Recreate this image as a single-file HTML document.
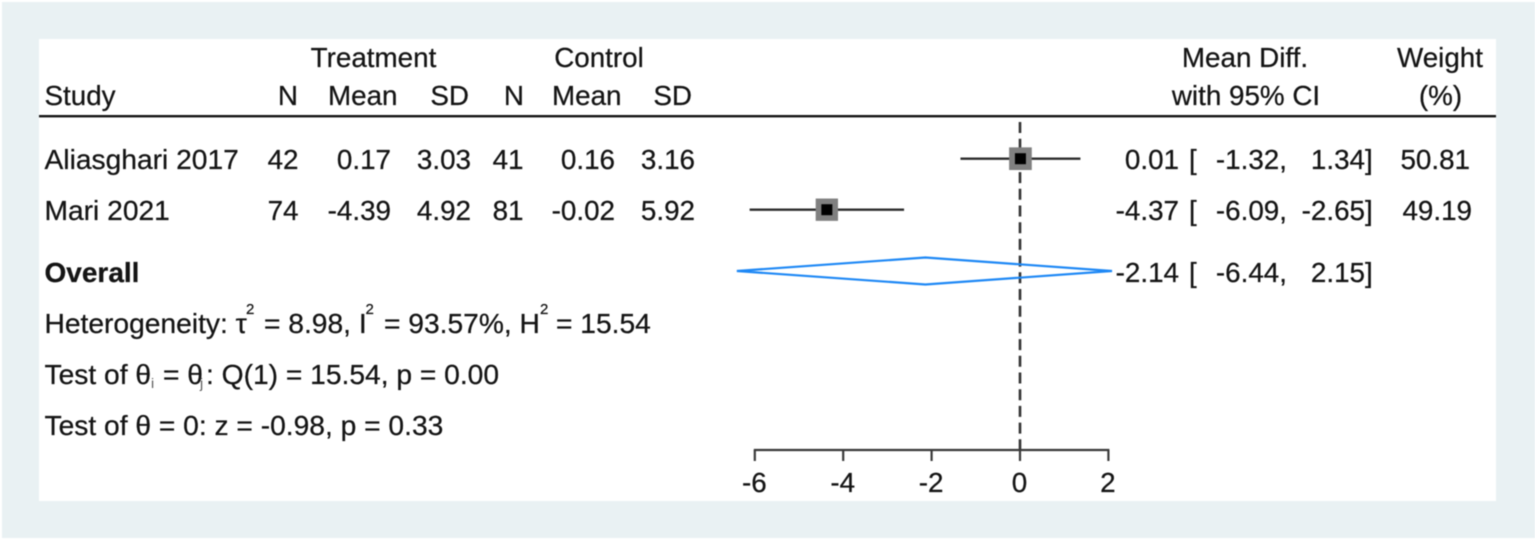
<!DOCTYPE html>
<html lang="en">
<head>
<meta charset="utf-8">
<title>Forest plot</title>
<style>
html,body{margin:0;padding:0;background:#fff;}
body{width:1535px;height:541px;overflow:hidden;}
svg{display:block;filter:blur(0.45px);}
text{font-family:"Liberation Sans",Arial,sans-serif;font-size:27.8px;fill:#141414;stroke:#141414;stroke-width:0.25px;}
.r{text-anchor:end;}
.m{text-anchor:middle;}
.wide{font-size:28.2px;}
.sup{font-size:15px;}
.sub{font-size:14px;fill:#555;stroke:none;}
</style>
</head>
<body>
<svg id="chart" xmlns="http://www.w3.org/2000/svg" width="1535" height="541" viewBox="0 0 1535 541">
  <rect x="2" y="2" width="1533" height="536" fill="#e9f1f3"/>
  <rect x="39" y="39" width="1457" height="462" fill="#ffffff"/>

  <g>
    <text x="373.5" y="67" class="m">Treatment</text>
    <text x="599" y="67" class="m">Control</text>
    <text x="1245" y="67" class="m">Mean Diff.</text>
    <text x="1440" y="67" class="m">Weight</text>
    <text x="44.5" y="105">Study</text>
    <text x="298" y="105" class="r">N</text>
    <text x="397.5" y="105" class="r">Mean</text>
    <text x="469" y="105" class="r">SD</text>
    <text x="524" y="105" class="r">N</text>
    <text x="621.5" y="105" class="r">Mean</text>
    <text x="692" y="105" class="r">SD</text>
    <text x="1246" y="105" class="m">with 95% CI</text>
    <text x="1440.5" y="105" class="m">(%)</text>
  </g>
  <rect x="39" y="115" width="1457" height="2.4" fill="#141414"/>

  <g>
    <text class="wide" x="44.5" y="169">Aliasghari 2017</text>
    <text x="298.5" y="169" class="r">42</text>
    <text x="391" y="169" class="r">0.17</text>
    <text x="471" y="169" class="r">3.03</text>
    <text x="523.5" y="169" class="r">41</text>
    <text x="615" y="169" class="r">0.16</text>
    <text x="695" y="169" class="r">3.16</text>
    <text x="1179" y="169" class="r">0.01</text>
    <text x="1189" y="169">[</text>
    <text x="1287" y="169" class="r">-1.32,</text>
    <text x="1365" y="169" class="r">1.34</text>
    <text x="1365" y="169">]</text>
    <text x="1470" y="169" class="r">50.81</text>
  </g>
  <g>
    <text class="wide" x="44.5" y="220">Mari 2021</text>
    <text x="298.5" y="220" class="r">74</text>
    <text x="391" y="220" class="r">-4.39</text>
    <text x="471" y="220" class="r">4.92</text>
    <text x="523.5" y="220" class="r">81</text>
    <text x="615" y="220" class="r">-0.02</text>
    <text x="695" y="220" class="r">5.92</text>
    <text x="1179" y="220" class="r">-4.37</text>
    <text x="1189" y="220">[</text>
    <text x="1287" y="220" class="r">-6.09,</text>
    <text x="1365" y="220" class="r">-2.65</text>
    <text x="1365" y="220">]</text>
    <text x="1472" y="220" class="r">49.19</text>
  </g>
  <g>
    <text x="44.5" y="282" style="font-weight:bold;font-size:28px">Overall</text>
    <text x="1179" y="282" class="r">-2.14</text>
    <text x="1189" y="282">[</text>
    <text x="1287" y="282" class="r">-6.44,</text>
    <text x="1365" y="282" class="r">2.15</text>
    <text x="1365" y="282">]</text>
  </g>

  <text class="wide" y="333"><tspan x="44.5">Heterogeneity: τ</tspan><tspan class="sup" x="246" y="314">2</tspan><tspan x="264" y="333">= 8.98, I</tspan><tspan class="sup" x="365.5" y="314">2</tspan><tspan x="384" y="333">= 93.57%, H</tspan><tspan class="sup" x="540" y="314">2</tspan><tspan x="556" y="333">= 15.54</tspan></text>
  <text class="wide" y="384"><tspan x="44.5">Test of θ</tspan><tspan class="sub" x="151" y="388">i</tspan><tspan x="163" y="384">= θ</tspan><tspan class="sub" x="200" y="388">j</tspan><tspan x="206" y="384">: Q(1) = 15.54, p = 0.00</tspan></text>
  <text class="wide" x="44.5" y="435">Test of θ = 0: z = -0.98, p = 0.33</text>

  <g id="marks"></g>
</svg>
<script>
var studyNames = ["Aliasghari 2017", "Mari 2021"];
var meanDiff = [0.01, -4.37];
var ciLow = [-1.32, -6.09];
var ciHigh = [1.34, -2.65];
var weights = [50.81, 49.19];
var overallEffect = [-2.14];
var overallCi = [-6.44, 2.15];
var tickValues = [-6, -4, -2, 0, 2];
var tickLabels = ["-6", "-4", "-2", "0", "2"];

var NS = "http://www.w3.org/2000/svg";
var marks = document.getElementById("marks");
function xScale(v) { return 1020 + v * 44.2; }
function rowY(i) { return 158.7 + i * 51; }
function shape(tag, attrs, parent) {
  var el = document.createElementNS(NS, tag);
  for (var k in attrs) { el.setAttribute(k, attrs[k]); }
  (parent || marks).appendChild(el);
  return el;
}

var refLine = shape("line", {x1: xScale(0), x2: xScale(0), y1: 122, y2: 456, stroke: "#333", "stroke-width": 2.6, "stroke-dasharray": "11 5.7"});



studyNames.forEach(function (name, i) {
  var y = rowY(i);
  var ci = shape("line", {x1: xScale(ciLow[i]), x2: xScale(ciHigh[i]), y1: y, y2: y, stroke: "#2e2e2e", "stroke-width": 2.4, "stroke-linecap": "square"});
  
  
  var size = 22.5 * Math.sqrt(weights[i] / 50);
  var box = shape("rect", {x: xScale(meanDiff[i]) - size / 2, y: y - size / 2, width: size, height: size, fill: "#808080"});
  
  
  var dot = shape("rect", {x: xScale(meanDiff[i]) - 5.5, y: y - 5.5, width: 11, height: 11, fill: "#000"});
  
  
});

var oy = 271;
var diamond = shape("polygon", {
  points: [xScale(overallCi[0]) + 1.5, oy, xScale(overallEffect[0]), oy - 13.5, xScale(overallCi[1]) - 3, oy, xScale(overallEffect[0]), oy + 13.5].join(" "),
  fill: "none", stroke: "#1e88f5", "stroke-width": 2.2
});



var axisLine = shape("line", {x1: xScale(tickValues[0]) - 1, x2: xScale(tickValues[tickValues.length - 1]) + 1, y1: 450, y2: 450, stroke: "#3a3a3a", "stroke-width": 2.2});



tickValues.forEach(function (v, i) {
  var tick = shape("line", {x1: xScale(v), x2: xScale(v), y1: 450, y2: 461, stroke: "#3a3a3a", "stroke-width": 2.2});
  
  
  var label = shape("text", {x: xScale(v) - 0.5, y: 492, "text-anchor": "middle"});
  
  
  label.textContent = tickLabels[i];
});
</script>
</body>
</html>
